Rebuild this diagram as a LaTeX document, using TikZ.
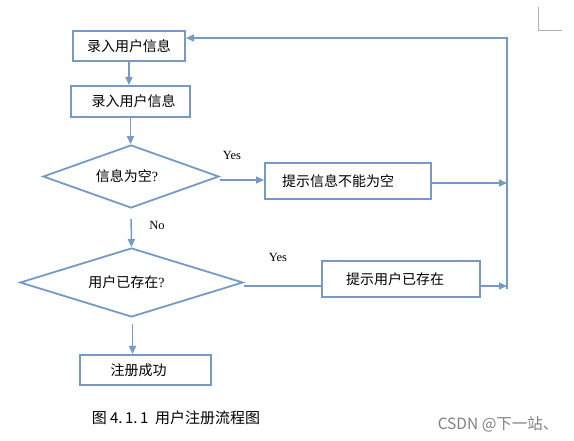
\documentclass[tikz,border=0pt]{standalone}
\usepackage{fontspec}
\usepackage{xcolor}
\usepackage{tikz}
\usetikzlibrary{shapes.geometric,arrows.meta}
\setmainfont{Liberation Serif}
\newfontfamily\cjk{Noto Sans CJK SC}
\definecolor{flowblue}{RGB}{118,153,197}

\tikzset{
    stepbox/.style={rectangle,draw=flowblue,line width=2pt,inner sep=0pt,font=\cjk\fontsize{14}{16}\selectfont},
    decide/.style={diamond,aspect=3,draw=flowblue,line width=1.8pt,inner sep=0pt,font=\fontsize{14}{16}\selectfont},
    flow/.style={draw=flowblue,line width=1.5pt},
    tip/.style={flow,-{Triangle[length=8pt,width=7pt]}},
    answer/.style={font=\fontsize{12.5}{14}\selectfont}
}

\begin{document}
\begin{tikzpicture}[x=1pt,y=-1pt]
    \useasboundingbox (0,0) rectangle (574,441);

    \draw (129,46) node (input1) [stepbox,minimum width=112pt,minimum height=30pt] {录入用户信息};
    \draw (130.5,101.5) node (input2) [stepbox,minimum width=119pt,minimum height=31pt] {\hspace*{6pt}录入用户信息};
    \draw (131,176.5) node (empty) [decide,minimum width=176pt,minimum height=63pt] {{\cjk 信息为空}?\hspace*{8pt}};
    \draw (348,181) node (warn1) [stepbox,minimum width=166pt,minimum height=36pt] {提示信息不能为空\hspace*{20pt}};
    \draw (131.5,282.5) node (exists) [decide,minimum width=223pt,minimum height=69pt] {{\cjk 用户已存在}?\hspace*{10pt}};
    \draw (401,279) node (warn2) [stepbox,minimum width=158pt,minimum height=36pt] {提示用户已存在\hspace*{12pt}};
    \draw (145.5,370) node (done) [stepbox,minimum width=131pt,minimum height=30pt] {注册成功\hspace*{14pt}};
    \coordinate (backtop) at (507,38);
    \coordinate (backbot) at (507,289);

    \draw (232,155) node (yes1) [answer] {Yes};
    \draw (278,257) node (yes2) [answer] {Yes};
    \draw (157,225) node (no1) [answer] {No};

    \draw[tip] (input1.south) -- (input1.south |- input2.north);
    \draw[tip] (input2.south) -- (input2.south |- empty.north);
    \draw[tip] ([yshift=-3.5pt]empty.east) -- ([yshift=-3.5pt]empty.east -| warn1.west);
    \draw[tip] ([yshift=-2pt]warn1.east) -- ([yshift=-2pt]warn1.east -| backtop);
    \draw[tip,shorten <=10pt] (empty.south) -- (exists.north);
    \draw[flow] ([yshift=-3.5pt]exists.east) -- ([yshift=-3.5pt]exists.east -| warn2.west);
    \draw[tip] ([yshift=-7pt]warn2.east) -- ([yshift=-7pt]warn2.east -| backbot);
    \draw[tip,shorten <=6pt] ([xshift=1pt]exists.south) -- ([xshift=1pt]exists.south |- done.north);
    \draw[tip] (backbot) -- (backtop) -- (backtop -| input1.east);

    \draw (176,418) node (caption) [font=\cjk\fontsize{15}{17}\selectfont] {图 4.\,1.\,1\ \ 用户注册流程图};
    \draw (562,424) node (mark) [anchor=east,text=gray,font=\cjk\fontsize{15.5}{17}\selectfont] {CSDN @下一站、};
    \draw[gray!60,line width=0.8pt] (538,7) -- (538,30) -- (562,30);
\end{tikzpicture}
\end{document}
